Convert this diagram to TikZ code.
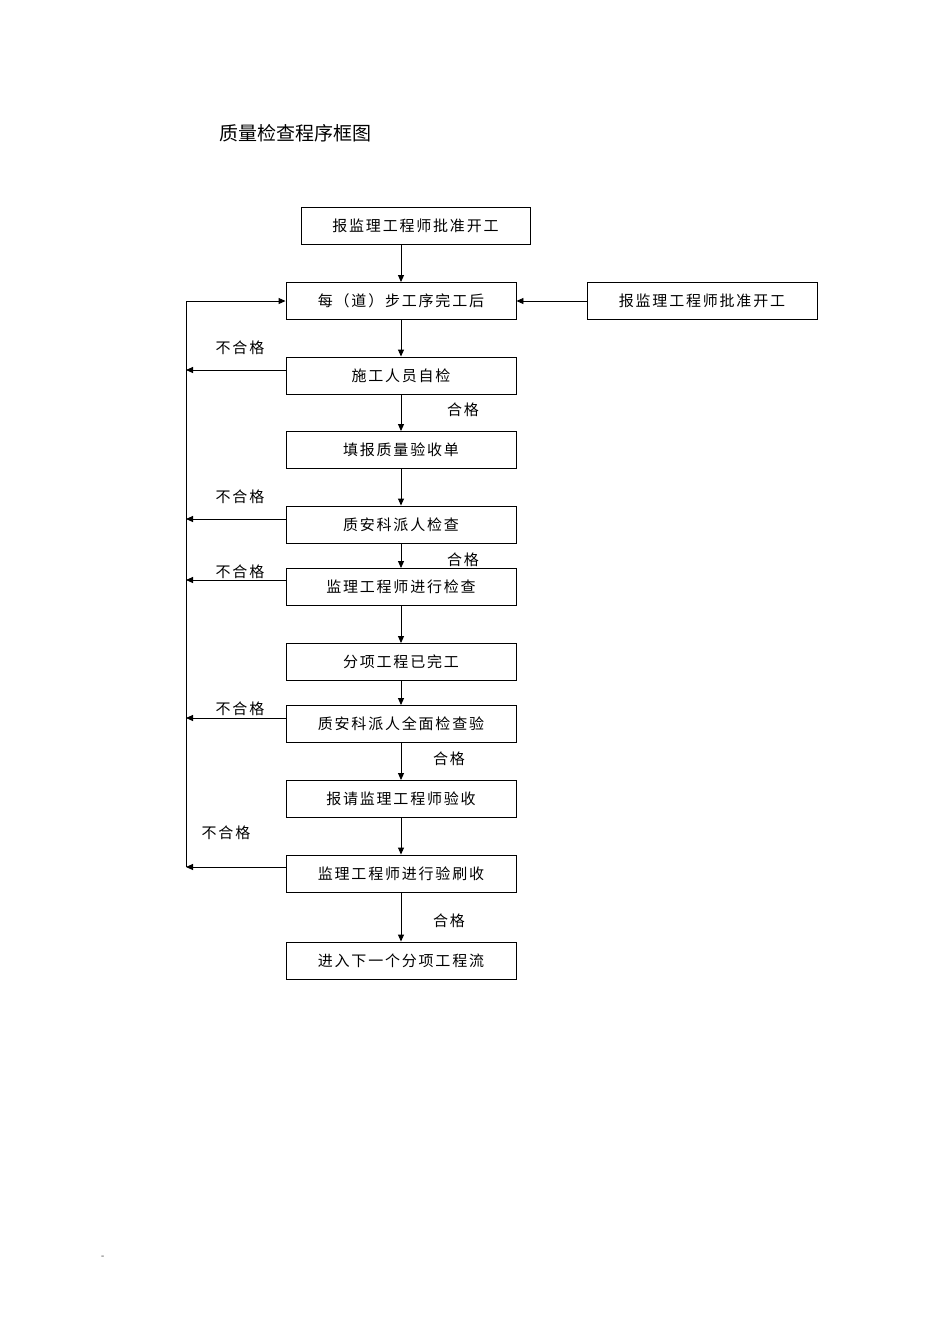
\documentclass[tikz,border=0pt]{standalone}
\usepackage{fontspec}
\newfontfamily\cjk{Noto Sans CJK SC}[LetterSpace=12]
\newfontfamily\cjktitle{Noto Sans CJK SC}
\usetikzlibrary{arrows.meta}
\begin{document}
\begin{tikzpicture}[x=1pt,y=-1pt,
  box/.style={draw,line width=0.9pt,minimum width=230pt,minimum height=37pt,font=\cjk\fontsize{15}{15}\selectfont,inner sep=0pt},
  lbl/.style={font=\cjk\fontsize{15}{15}\selectfont,inner sep=0pt},
  arr/.style={-{Triangle[length=7pt,width=6pt]},line width=0.9pt}]
\useasboundingbox (0,0) rectangle (950,1344);
\node[inner sep=0pt,font=\cjktitle\fontsize{19}{19}\selectfont] (title) at (295,133) {质量检查程序框图};
\node[box,minimum width=229pt] (b1) at (415.5,225.5) {报监理工程师批准开工};
\node[box] (b2) at (401,301) {每（道）步工序完工后};
\node[box] (r) at (702,301) {报监理工程师批准开工};
\node[box] (b3) at (401,375.5) {施工人员自检};
\node[box] (b4) at (401,450) {填报质量验收单};
\node[box] (b5) at (401,524.5) {质安科派人检查};
\node[box] (b6) at (401,587) {监理工程师进行检查};
\node[box] (b7) at (401,662) {分项工程已完工};
\node[box] (b8) at (401,724) {质安科派人全面检查验};
\node[box] (b9) at (401,799) {报请监理工程师验收};
\node[box] (b10) at (401,873.5) {监理工程师进行验刷收};
\node[box] (b11) at (401,960.5) {进入下一个分项工程流};
\draw[arr] (401,244) -- (b2.north);
\draw[arr] (b2) -- (b3);
\draw[arr] (b3) -- (b4);
\draw[arr] (b4) -- (b5);
\draw[arr] (b5) -- (b6);
\draw[arr] (b6) -- (b7);
\draw[arr] (b7) -- (b8);
\draw[arr] (b8) -- (b9);
\draw[arr] (b9) -- (b10);
\draw[arr] (b10) -- (b11);
\draw[arr] (r) -- (b2);
\coordinate (top) at (186,301);
\coordinate (bot) at (186,867);
\draw[line width=0.9pt] (bot) -- (top);
\draw[arr] (top) -- (b2.west);
\foreach \b/\yy in {b3/370,b5/519,b6/580,b8/718,b10/867}{
  \coordinate (L\b) at (186,\yy);
  \draw[arr] (b2.west |- L\b) -- (L\b);
}
\node[lbl] (n1) at (240,348) {不合格};
\node[lbl] (n2) at (240,497) {不合格};
\node[lbl] (n3) at (240,572) {不合格};
\node[lbl] (n4) at (240,709) {不合格};
\node[lbl] (n5) at (226,833) {不合格};
\node[lbl] (h1) at (463,410) {合格};
\node[lbl] (h2) at (463,560) {合格};
\node[lbl] (h3) at (449,759) {合格};
\node[lbl] (h4) at (449,921) {合格};
\node[lbl,font=\small] (dash) at (103,1257) {-};
\end{tikzpicture}
\end{document}
